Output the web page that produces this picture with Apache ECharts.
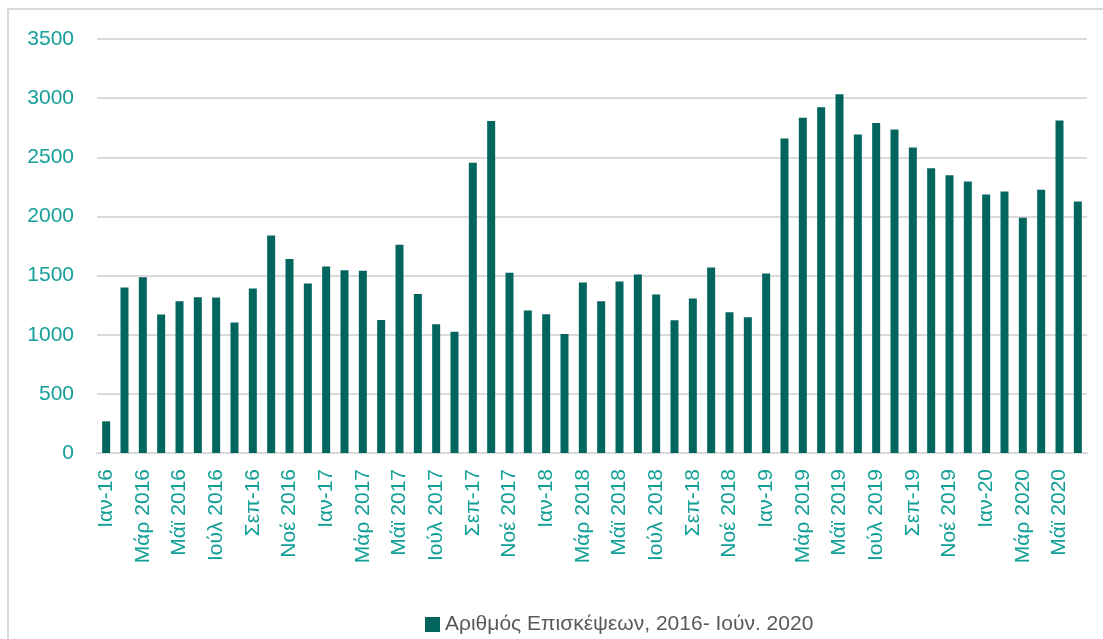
<!DOCTYPE html>
<html>
<head>
<meta charset="utf-8">
<script src="https://cdn.jsdelivr.net/npm/echarts@6/dist/echarts.min.js"></script>
<style>
  html, body { margin: 0; padding: 0; background: #fff; }
  #chart { width: 1103px; height: 639px; }
</style>
</head>
<body>
<div id="chart"></div>
<script>
// μήνες Ιαν 2016 - Ιούν 2020
var months = [
  'Ιαν-16', 'Φεβ 2016', 'Μάρ 2016', 'Απρ 2016', 'Μάϊ 2016', 'Ιούν 2016',
  'Ιούλ 2016', 'Αύγ 2016', 'Σεπ-16', 'Οκτ 2016', 'Νοέ 2016', 'Δεκ 2016',
  'Ιαν-17', 'Φεβ 2017', 'Μάρ 2017', 'Απρ 2017', 'Μάϊ 2017', 'Ιούν 2017',
  'Ιούλ 2017', 'Αύγ 2017', 'Σεπ-17', 'Οκτ 2017', 'Νοέ 2017', 'Δεκ 2017',
  'Ιαν-18', 'Φεβ 2018', 'Μάρ 2018', 'Απρ 2018', 'Μάϊ 2018', 'Ιούν 2018',
  'Ιούλ 2018', 'Αύγ 2018', 'Σεπ-18', 'Οκτ 2018', 'Νοέ 2018', 'Δεκ 2018',
  'Ιαν-19', 'Φεβ 2019', 'Μάρ 2019', 'Απρ 2019', 'Μάϊ 2019', 'Ιούν 2019',
  'Ιούλ 2019', 'Αύγ 2019', 'Σεπ-19', 'Οκτ 2019', 'Νοέ 2019', 'Δεκ 2019',
  'Ιαν-20', 'Φεβ 2020', 'Μάρ 2020', 'Απρ 2020', 'Μάϊ 2020', 'Ιούν 2020'
];

var visits = [
  268, 1399, 1486, 1170, 1283, 1317, 1314, 1103, 1390, 1839, 1641, 1433,
  1576, 1545, 1540, 1125, 1760, 1345, 1089, 1026, 2453, 2806, 1523, 1204,
  1173, 1007, 1441, 1283, 1450, 1509, 1340, 1122, 1306, 1568, 1190, 1148,
  1517, 2659, 2834, 2924, 3032, 2693, 2789, 2735, 2583, 2408, 2349, 2295,
  2186, 2211, 1988, 2225, 2812, 2126
];

var seriesName = 'Αριθμός Επισκέψεων, 2016- Ιούν. 2020';

var myChart = echarts.init(document.getElementById('chart'));
myChart.setOption({
  animation: false,
  textStyle: { fontFamily: 'Liberation Sans, Arial, sans-serif' },
  graphic: [{
    type: 'rect',
    shape: { x: 8, y: 9, width: 1300, height: 800 },
    style: { fill: 'none', stroke: '#d9d9d9', lineWidth: 2 },
    silent: true
  }],
  grid: { left: 97, right: 16, top: 39, bottom: 186 },
  legend: {
    left: 420,
    top: 609,
    itemWidth: 15,
    itemHeight: 15,
    itemGap: 5,
    icon: 'rect',
    textStyle: { color: '#595959', fontSize: 21, padding: [0, 0, 0, 0] },
    data: [seriesName]
  },
  xAxis: {
    type: 'category',
    data: months,
    axisLine: { lineStyle: { color: '#d9d9d9', width: 2 } },
    axisTick: { show: false },
    axisLabel: {
      interval: 1,
      rotate: 90,
      margin: 16,
      color: '#14a098',
      fontSize: 21
    }
  },
  yAxis: {
    type: 'value',
    min: 0,
    max: 3500,
    interval: 500,
    axisLine: { show: false },
    axisTick: { show: false },
    axisLabel: {
      color: '#14a098',
      fontSize: 21,
      margin: 23,
      formatter: function (v) { return String(v); }
    },
    splitLine: { lineStyle: { color: '#d9d9d9', width: 2 } }
  },
  series: [{
    name: seriesName,
    type: 'bar',
    data: visits,
    barWidth: 8,
    itemStyle: { color: '#02665f' }
  }]
});
</script>
</body>
</html>
